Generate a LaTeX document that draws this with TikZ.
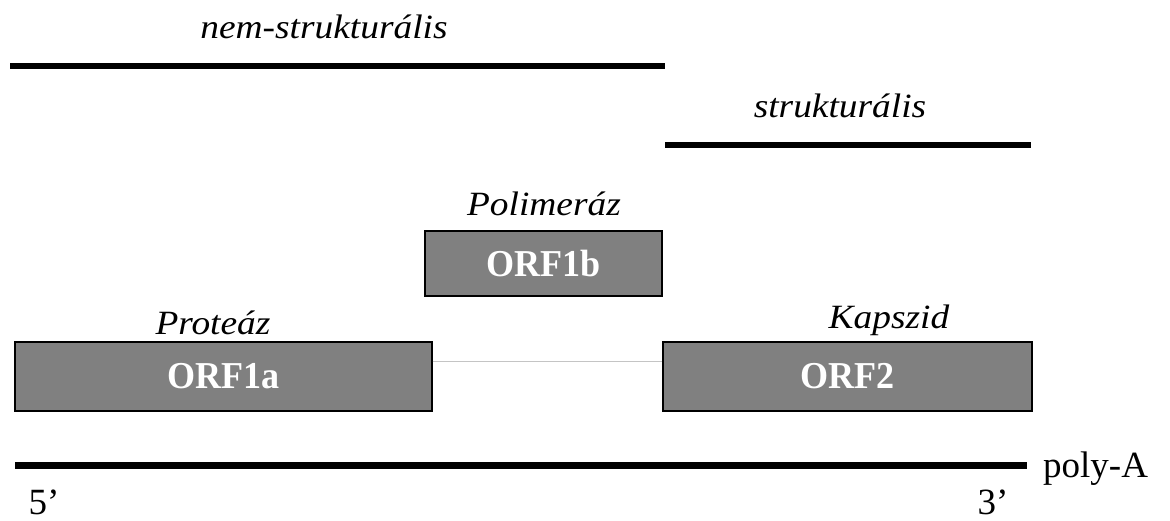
\documentclass[tikz,border=0pt]{standalone}
\usepackage{fontspec}
\setmainfont{Liberation Serif}
\begin{document}
\begin{tikzpicture}[x=1pt,y=-1pt,
  orfbox/.style={draw=black, line width=1.2pt, fill=orfgray, inner sep=0pt,
    text=white, font=\fontsize{38}{42}\selectfont\bfseries},
  role/.style={font=\fontsize{34}{38}\selectfont\itshape, inner sep=0pt},
  endlabel/.style={font=\fontsize{37}{41}\selectfont, inner sep=0pt},
  span/.style={line width=6pt},
  genome/.style={line width=7pt},
  link/.style={draw=linkgray, line width=1.8pt}]
\definecolor{orfgray}{HTML}{808080}
\definecolor{linkgray}{HTML}{C4C4C4}
\newcommand\widetext[1]{\scalebox{1.1}[1]{#1}}
\newcommand\narrowtext[1]{\scalebox{0.95}[1]{#1}}
\useasboundingbox (0,0) rectangle (1170,521);

% protein group spans
\node[role] (ns) at (324,27) {\widetext{nem-strukturális}};
\coordinate (nsA) at (10,66);
\coordinate (nsB) at (665,66);
\draw[span] (nsA) -- (nsB);

\node[role] (st) at (840,106) {\widetext{strukturális}};
\coordinate (stA) at (665,145);
\coordinate (stB) at (1031,145);
\draw[span] (stA) -- (stB);

% open reading frames
\node[role] (pol) at (544,204) {\widetext{Polimeráz}};
\node[orfbox, minimum width=237pt, minimum height=65pt] (orf1b) at (543.5,263.5) {\narrowtext{ORF1b}};

\node[role] (prot) at (213,323) {\widetext{Proteáz}};
\node[orfbox, minimum width=417pt, minimum height=69pt] (orf1a) at (223.5,376.5) {\narrowtext{ORF1a}};

\node[role] (kap) at (889,320) {\widetext{Kapszid}};
\node[orfbox, minimum width=369pt, minimum height=69pt] (orf2) at (847.5,376.5) {\narrowtext{ORF2}};

\draw[link] ([yshift=-20pt]orf1a.north east) -- ([yshift=-20pt]orf2.north west);

% genome
\coordinate (g5) at (15,465);
\coordinate (g3) at (1027,465);
\draw[genome] (g5) -- (g3);
\node[endlabel, anchor=base west] (polyA) at (1043,477) {poly-A};
\node[endlabel] (five) at (44,502) {5’};
\node[endlabel] (three) at (993,502) {3’};
\end{tikzpicture}
\end{document}
